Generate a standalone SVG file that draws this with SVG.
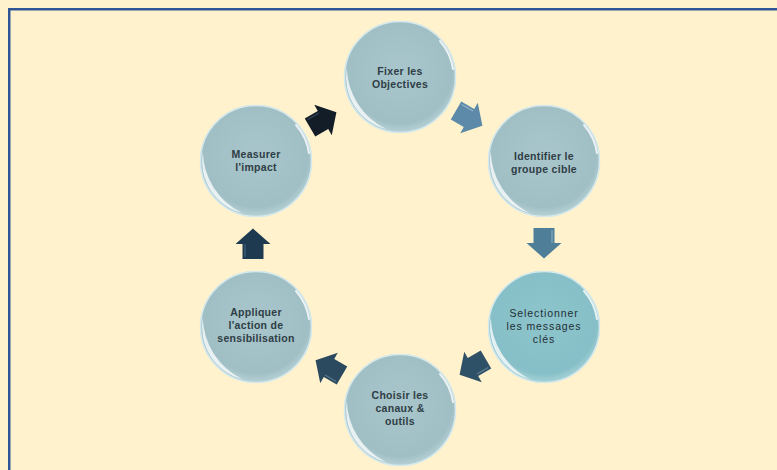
<svg xmlns="http://www.w3.org/2000/svg" xmlns:xlink="http://www.w3.org/1999/xlink" width="777" height="470" viewBox="0 0 777 470">
<style>
.lbl{font-family:"Liberation Sans",Arial,sans-serif;font-size:10.5px;font-weight:bold;fill:#2f3d45;text-anchor:middle;letter-spacing:0.3px}
.lbl2{font-weight:normal;letter-spacing:0.9px;fill:#1f2e36}
.rim{fill:none;stroke:#d6eaee;stroke-width:1.5}
.cres{fill:#ffffff;opacity:0.75}
.shine{fill:none;stroke:#ffffff;stroke-width:2;stroke-linecap:round;opacity:0.8}
</style>
<defs>
<radialGradient id="gBlue" cx="0.5" cy="0.45" r="0.55">
<stop offset="0" stop-color="#a8c6cb"/>
<stop offset="0.85" stop-color="#a0bfc5"/>
<stop offset="1" stop-color="#b8d3d7"/>
</radialGradient>
<radialGradient id="gTeal" cx="0.5" cy="0.45" r="0.55">
<stop offset="0" stop-color="#8ec5cc"/>
<stop offset="0.85" stop-color="#86bfc7"/>
<stop offset="1" stop-color="#a9d4d9"/>
</radialGradient>
<g id="gloss">
<path class="cres" d="M -14,52 A 54 54 0 0 1 -53.2,-9.4 A 70 70 0 0 0 -14,52 Z"/>
<path class="shine" d="M 40,-36 A 54 54 0 0 1 53,-8"/>
<circle class="rim" r="55.5"/>
</g>
<path id="arw" d="M -15,-10.5 L 0,-10.5 L 0,-17.5 L 15.5,0 L 0,17.5 L 0,10.5 L -15,10.5 Z"/>
</defs>
<rect x="0" y="0" width="777" height="470" fill="#fff2cc"/>
<rect x="9.25" y="9.25" width="800" height="500" fill="none" stroke="#2f5597" stroke-width="2.5"/>

<g id="connectors">
<g transform="translate(469,118) rotate(30)"><use xlink:href="#arw" fill="#5d8aa8"/><path d="M -13,-8 L 0,-8" stroke="#a9c7d8" stroke-width="1.2" opacity="0.7"/></g>
<g transform="translate(544,243) rotate(90)"><use xlink:href="#arw" fill="#4f7e99"/><path d="M -13,-8 L 0,-8" stroke="#9fc0d2" stroke-width="1.2" opacity="0.7"/></g>
<g transform="translate(473,367) rotate(150)"><use xlink:href="#arw" fill="#2f5168"/><path d="M -13,-8 L 0,-8" stroke="#7f9fb2" stroke-width="1.2" opacity="0.6"/></g>
<g transform="translate(329,368) rotate(210)"><use xlink:href="#arw" fill="#2b4a60"/><path d="M -13,-8 L 0,-8" stroke="#7896a9" stroke-width="1.2" opacity="0.6"/></g>
<g transform="translate(253,244) rotate(270)"><use xlink:href="#arw" fill="#1e3a50"/><path d="M -13,-8 L 0,-8" stroke="#5d7d92" stroke-width="1.2" opacity="0.6"/></g>
<g transform="translate(323,120) rotate(330)"><use xlink:href="#arw" fill="#131d28"/><path d="M -13,-8 L 0,-8" stroke="#4f6170" stroke-width="1.2" opacity="0.6"/></g>
</g>

<g id="node-fixer" transform="translate(400,77)">
<circle r="56" fill="url(#gBlue)"/><use xlink:href="#gloss"/>
<text class="lbl" y="-2">Fixer les</text>
<text class="lbl" y="11">Objectives</text>
</g>
<g id="node-identifier" transform="translate(544,161)">
<circle r="56" fill="url(#gBlue)"/><use xlink:href="#gloss"/>
<text class="lbl" y="-1">Identifier le</text>
<text class="lbl" y="12">groupe cible</text>
</g>
<g id="node-selectionner" transform="translate(544,327)">
<circle r="56" fill="url(#gTeal)"/><use xlink:href="#gloss"/>
<text class="lbl lbl2" y="-10">Selectionner</text>
<text class="lbl lbl2" y="3">les messages</text>
<text class="lbl lbl2" y="16">clés</text>
</g>
<g id="node-choisir" transform="translate(400,410)">
<circle r="56" fill="url(#gBlue)"/><use xlink:href="#gloss"/>
<text class="lbl" y="-11">Choisir les</text>
<text class="lbl" y="2">canaux &amp;</text>
<text class="lbl" y="15">outils</text>
</g>
<g id="node-appliquer" transform="translate(256,327)">
<circle r="56" fill="url(#gBlue)"/><use xlink:href="#gloss"/>
<text class="lbl" y="-11">Appliquer</text>
<text class="lbl" y="2">l'action de</text>
<text class="lbl" y="15">sensibilisation</text>
</g>
<g id="node-measurer" transform="translate(256,161)">
<circle r="56" fill="url(#gBlue)"/><use xlink:href="#gloss"/>
<text class="lbl" y="-3">Measurer</text>
<text class="lbl" y="10">l'impact</text>
</g>
</svg>
